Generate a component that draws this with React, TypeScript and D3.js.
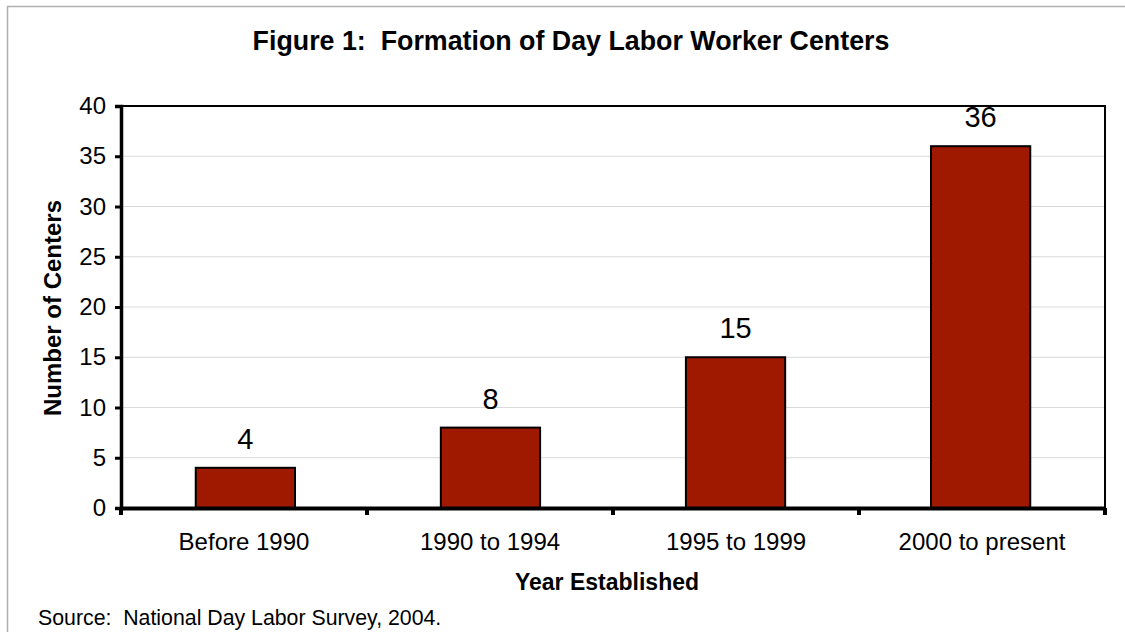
import React, { useEffect, useRef } from 'react';
import * as d3 from 'd3';

const categories = ['Before 1990', '1990 to 1994', '1995 to 1999', '2000 to present'];
const centers = [4, 8, 15, 36];
const yTicks = [0, 5, 10, 15, 20, 25, 30, 35, 40];

const W = 1125, H = 632;
const FONT = '"Liberation Sans", Arial, sans-serif';

export default function App() {
  const ref = useRef<SVGSVGElement>(null);

  useEffect(() => {
    const svg = d3.select(ref.current);
    svg.selectAll('*').remove();

    const margin = { top: 106, right: 20, bottom: 124, left: 121 };
    const width = W - margin.left - margin.right;
    const height = H - margin.top - margin.bottom;

    // page frame
    svg.append('path')
      .attr('d', `M7.5,${H} V6.5 H${W}`)
      .attr('fill', 'none')
      .attr('stroke', '#b0b0b0')
      .attr('stroke-width', 1.5);

    svg.append('text')
      .attr('x', 571).attr('y', 50)
      .attr('text-anchor', 'middle')
      .style('white-space', 'pre')
      .style('font-family', FONT).style('font-size', '26.8px').style('font-weight', 'bold')
      .text('Figure 1:  Formation of Day Labor Worker Centers');

    const chart = svg.append('g')
      .attr('transform', `translate(${margin.left},${margin.top})`);

    const x = d3.scaleBand().domain(categories).range([0, width]).paddingInner(0.595).paddingOuter(0.305);
    const band = d3.scaleBand().domain(categories).range([0, width]);
    const y = d3.scaleLinear().domain([0, 40]).range([height, 0]);

    // grid
    chart.selectAll('.grid').data(yTicks.filter((t) => t > 0 && t < 40)).enter()
      .append('line')
      .attr('x1', 0).attr('x2', width)
      .attr('y1', (d) => y(d)).attr('y2', (d) => y(d))
      .attr('stroke', '#d9d9d9').attr('stroke-width', 1);

    // plot border top/right
    chart.append('path')
      .attr('d', `M0,0 H${width} V${height}`)
      .attr('fill', 'none').attr('stroke', '#000').attr('stroke-width', 2);

    chart.selectAll('.bar').data(centers).enter()
      .append('rect')
      .attr('x', (d, i) => x(categories[i]) as number)
      .attr('y', (d) => y(d))
      .attr('width', x.bandwidth())
      .attr('height', (d) => height - y(d))
      .attr('fill', '#9e1900')
      .attr('stroke', '#000').attr('stroke-width', 2);

    chart.selectAll('.val').data(centers).enter()
      .append('text')
      .attr('x', (d, i) => (x(categories[i]) as number) + x.bandwidth() / 2)
      .attr('y', (d) => y(d) - 19)
      .attr('text-anchor', 'middle')
      .style('font-family', FONT).style('font-size', '29px')
      .text((d) => d);

    // y axis
    const yAxis = chart.append('g')
      .call(d3.axisLeft(y).tickValues(yTicks).tickSize(6).tickPadding(9));
    yAxis.select('.domain').attr('stroke', '#000').attr('stroke-width', 3.5);
    yAxis.selectAll('.tick line').attr('stroke', '#000').attr('stroke-width', 3);
    yAxis.selectAll('.tick text').style('font-family', FONT).style('font-size', '24px').attr('fill', '#000');

    // x axis
    const xAxis = chart.append('g')
      .attr('transform', `translate(0,${height})`)
      .call(d3.axisBottom(band).tickSize(0).tickPadding(25));
    xAxis.select('.domain').attr('stroke', '#000').attr('stroke-width', 4);
    xAxis.selectAll('.tick text').style('font-family', FONT).style('font-size', '24px').attr('fill', '#000');

    chart.selectAll('.xtick').data(d3.range(categories.length + 1)).enter()
      .append('line')
      .attr('x1', (i) => i * band.bandwidth()).attr('x2', (i) => i * band.bandwidth())
      .attr('y1', height).attr('y2', height + 7)
      .attr('stroke', '#000').attr('stroke-width', 4);

    chart.append('text')
      .attr('x', width / 2 - 6).attr('y', height + 82)
      .attr('text-anchor', 'middle')
      .style('font-family', FONT).style('font-size', '23px').style('font-weight', 'bold')
      .text('Year Established');

    chart.append('text')
      .attr('transform', `translate(${-60},${height / 2 + 1}) rotate(-90)`)
      .attr('text-anchor', 'middle')
      .style('font-family', FONT).style('font-size', '24px').style('font-weight', 'bold')
      .text('Number of Centers');

    svg.append('text')
      .attr('x', 38).attr('y', 625)
      .style('white-space', 'pre')
      .style('font-family', FONT).style('font-size', '21.3px')
      .text('Source:  National Day Labor Survey, 2004.');
  }, []);

  return (
    <svg ref={ref} width={W} height={H}
      style={{ position: 'absolute', left: 0, top: 0, background: '#fff' }} />
  );
}
